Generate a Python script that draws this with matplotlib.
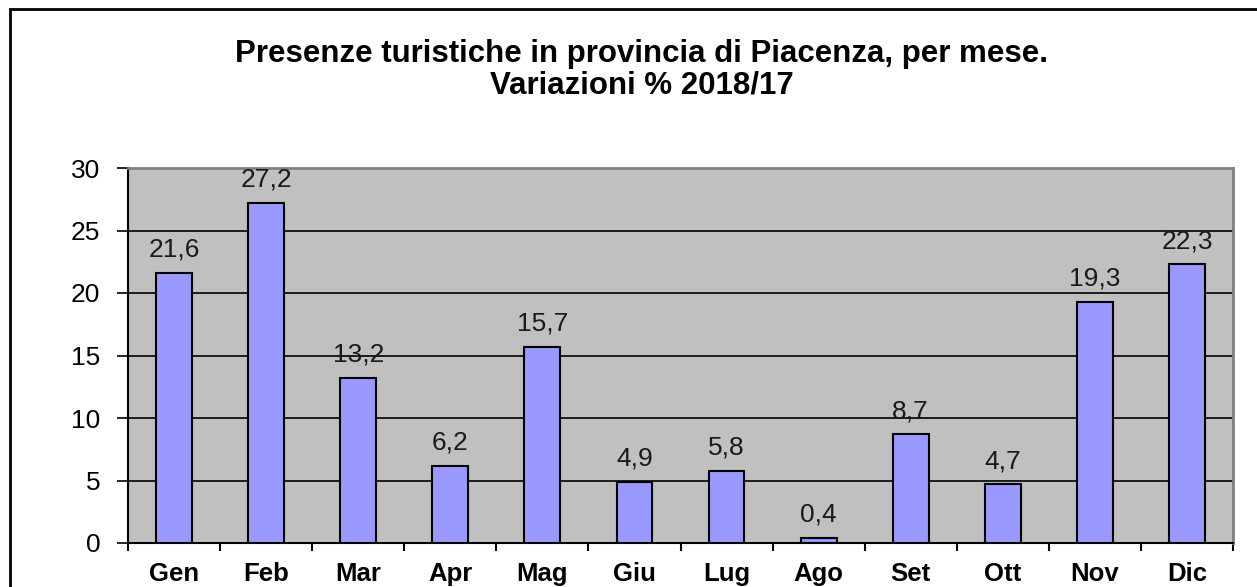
import matplotlib
matplotlib.use("Agg")
import matplotlib.pyplot as plt
from matplotlib.patches import Rectangle

# dati
mesi = ["Gen", "Feb", "Mar", "Apr", "Mag", "Giu", "Lug", "Ago", "Set", "Ott", "Nov", "Dic"]
variazioni = [21.6, 27.2, 13.2, 6.2, 15.7, 4.9, 5.8, 0.4, 8.7, 4.7, 19.3, 22.3]
y_ticks = [0, 5, 10, 15, 20, 25, 30]

plt.rcParams['font.family'] = ['Liberation Sans', 'DejaVu Sans']

fig = plt.figure(figsize=(12.57, 5.87), dpi=100)
ax = fig.add_axes([128/1257, 1 - 543/587, (1233-128)/1257, (543-168)/587])
ax.set_facecolor("#C0C0C0")

x = list(range(len(mesi)))
ax.bar(x, variazioni, width=0.39, color="#9999FF", edgecolor="black", linewidth=1.5, zorder=3)

for i, v in enumerate(variazioni):
    ax.annotate(f"{v:.1f}".replace(".", ","), (i, v), xytext=(0, 8), textcoords="offset points",
                ha="center", va="bottom", fontsize=19, color="#1a1a1a")

ax.set_xlim(-0.5, len(mesi) - 0.5)
ax.set_ylim(0, 30)
ax.set_yticks(y_ticks)
ax.tick_params(axis="y", labelsize=19, length=8, width=1.2, pad=12, direction="out")
ax.set_xticks(x)
ax.set_xticklabels(mesi, fontsize=18.5, fontweight="bold")
ax.tick_params(axis="x", which="major", length=0, pad=14)
ax.set_xticks([i - 0.5 for i in range(len(mesi) + 1)], minor=True)
ax.tick_params(axis="x", which="minor", length=6, width=1.5, direction="out")

for y in y_ticks[1:-1]:
    ax.axhline(y, color="black", linewidth=1.2, zorder=1)

ax.spines["left"].set_color("black")
ax.spines["left"].set_linewidth(1.5)
ax.spines["bottom"].set_color("black")
ax.spines["bottom"].set_linewidth(1.5)
ax.spines["top"].set_color("#808080")
ax.spines["top"].set_linewidth(2)
ax.spines["right"].set_color("#808080")
ax.spines["right"].set_linewidth(2)

fig.text(642/1257, 1 - 70/587, "Presenze turistiche in provincia di Piacenza, per mese.\nVariazioni % 2018/17",
         ha="center", va="center", fontsize=22.5, fontweight="bold", linespacing=1.08)

# cornice esterna
fig.patches.append(Rectangle((10/1257, -0.1), 1.2, 1 - 9/587 + 0.1, transform=fig.transFigure,
                             fill=False, edgecolor="black", linewidth=2))

fig.savefig("out.png", dpi=100)
